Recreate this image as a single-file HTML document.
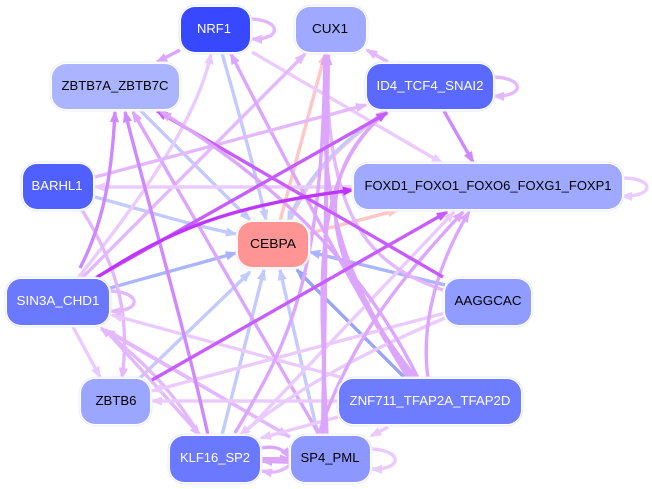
<!DOCTYPE html>
<html><head><meta charset="utf-8"><style>
html,body{margin:0;padding:0;background:#fff;width:652px;height:489px;overflow:hidden}
svg{display:block}
text{font-family:"Liberation Sans",sans-serif;font-size:12.5px;text-anchor:middle;dominant-baseline:central}
svg>path{fill:none}
marker path{stroke:none}
.a{stroke:#ebcbff;stroke-width:3.4}
.b{stroke:#e3b8ff;stroke-width:3.4}
.c{stroke:#dca6ff;stroke-width:3.4}
.d{stroke:#d088ff;stroke-width:3.4}
.e{stroke:#c75cff;stroke-width:3.4}
.f{stroke:#bf35ff;stroke-width:3.4}
.g{stroke:#c2caff;stroke-width:3.4}
.h{stroke:#aab4ff;stroke-width:3.4}
.i{stroke:#98a4f8;stroke-width:3.4}
.p{stroke:#ffc6c6;stroke-width:3.4}
.a{marker-end:url(#ma)}.b{marker-end:url(#mb)}.c{marker-end:url(#mc)}.d{marker-end:url(#md)}.e{marker-end:url(#me)}.f{marker-end:url(#mf)}.g{marker-end:url(#mg)}.h{marker-end:url(#mh)}.i{marker-end:url(#mi)}.p{marker-end:url(#mp)}
.o{fill:#fff;stroke-width:1}
</style></head><body>
<svg width="652" height="489" viewBox="0 0 652 489" xmlns="http://www.w3.org/2000/svg">
<defs>
<marker id="ma" markerUnits="userSpaceOnUse" markerWidth="12" markerHeight="9.4" viewBox="0 0 13 10" refX="11" refY="5" orient="auto"><path d="M0 0L13 5L0 10z" fill="#ebcbff"/></marker>
<marker id="mb" markerUnits="userSpaceOnUse" markerWidth="12" markerHeight="9.4" viewBox="0 0 13 10" refX="11" refY="5" orient="auto"><path d="M0 0L13 5L0 10z" fill="#e3b8ff"/></marker>
<marker id="mc" markerUnits="userSpaceOnUse" markerWidth="12" markerHeight="9.4" viewBox="0 0 13 10" refX="11" refY="5" orient="auto"><path d="M0 0L13 5L0 10z" fill="#dca6ff"/></marker>
<marker id="md" markerUnits="userSpaceOnUse" markerWidth="12" markerHeight="9.4" viewBox="0 0 13 10" refX="11" refY="5" orient="auto"><path d="M0 0L13 5L0 10z" fill="#d088ff"/></marker>
<marker id="me" markerUnits="userSpaceOnUse" markerWidth="12" markerHeight="9.4" viewBox="0 0 13 10" refX="11" refY="5" orient="auto"><path d="M0 0L13 5L0 10z" fill="#c75cff"/></marker>
<marker id="mf" markerUnits="userSpaceOnUse" markerWidth="12" markerHeight="9.4" viewBox="0 0 13 10" refX="11" refY="5" orient="auto"><path d="M0 0L13 5L0 10z" fill="#bf35ff"/></marker>
<marker id="mg" markerUnits="userSpaceOnUse" markerWidth="12" markerHeight="9.4" viewBox="0 0 13 10" refX="11" refY="5" orient="auto"><path d="M0 0L13 5L0 10z" fill="#c2caff"/></marker>
<marker id="mh" markerUnits="userSpaceOnUse" markerWidth="12" markerHeight="9.4" viewBox="0 0 13 10" refX="11" refY="5" orient="auto"><path d="M0 0L13 5L0 10z" fill="#aab4ff"/></marker>
<marker id="mi" markerUnits="userSpaceOnUse" markerWidth="12" markerHeight="9.4" viewBox="0 0 13 10" refX="11" refY="5" orient="auto"><path d="M0 0L13 5L0 10z" fill="#98a4f8"/></marker>
<marker id="mp" markerUnits="userSpaceOnUse" markerWidth="12" markerHeight="9.4" viewBox="0 0 13 10" refX="11" refY="5" orient="auto"><path d="M0 0L13 5L0 10z" fill="#ffc6c6"/></marker>
</defs>

<!-- pink -->
<path class="p" d="M280,221L325,54"/>
<path class="p" d="M290,221C310,175 335,150 386,111"/>
<path class="p" d="M310,233L398,210"/>
<!-- blue -->
<path class="g" d="M222,53C238,110 255,170 266,220"/>
<path class="g" d="M140,110L250,220"/>
<path class="g" d="M386,111C345,140 310,170 288,221"/>
<path class="g" d="M95,197C150,212 190,225 236,234"/>
<path class="h" d="M110,288L236,253"/>
<path class="g" d="M140,378L250,272"/>
<path class="g" d="M222,435L264,270"/>
<path class="g" d="M318,435L280,270"/>
<path class="h" d="M445,285L310,252"/>
<path class="i" d="M405,378L297,270"/>

<!-- light -->
<path class="b" d="M251,19C282,20 282,40 252,39"/>
<path class="c" d="M180,50L157,62"/>
<path class="a" d="M252,52L442,163"/>
<path class="a" d="M78,278C120,225 195,130 211,54"/>
<path class="b" d="M82,278L305,54"/>
<path class="c" d="M408,378C360,300 290,170 231,54"/>
<path class="c" d="M320,436L133,112"/>
<path class="b" d="M95,177L366,105"/>
<path class="a" d="M354,187L95,187"/>
<path class="b" d="M82,210C120,270 130,320 122,378"/>
<path class="a" d="M72,325L100,377"/>
<path class="a" d="M340,377L112,315"/>
<path class="b" d="M200,436C170,385 135,355 101,328"/>
<path class="b" d="M290,437L105,330"/>
<path class="b" d="M110,335L200,435"/>
<path class="b" d="M110,332L288,436"/>
<path class="a" d="M445,313L152,391"/>
<path class="a" d="M338,401L152,401"/>
<path class="a" d="M445,318C370,350 300,385 240,435"/>
<path class="a" d="M338,417L261,438"/>
<path class="a" d="M388,427L371,436"/>
<path class="a" d="M243,435L454,212"/>
<path class="b" d="M443,290C370,265 325,220 327,54"/>
<path class="c" d="M318,436C350,340 400,280 463,212"/>
<path class="c" d="M428,378C420,320 440,260 469,212"/>
<path class="b" d="M388,62L367,50"/>
<path class="d" d="M444,111L473,162"/>
<path class="b" d="M494,77C525,78 525,97 494,96"/>
<path class="a" d="M623,178C655,178 655,197 622,196"/>
<path class="b" d="M110,291C142,292 142,312 111,311"/>
<path class="a" d="M371,449C403,450 403,470 372,469"/>

<!-- to CUX1 / ID4 bundle -->
<path class="c" d="M235,433C290,340 322,280 325,55"/>
<path class="c" style="stroke-width:4.2" d="M323,436L328,55"/>
<path class="c" d="M412,378C345,280 315,200 327,55"/>
<path class="c" d="M327,436C322,300 305,180 386,112"/>
<path class="c" d="M416,378C340,280 295,190 386,112"/>

<!-- KLF <-> SP4 -->
<path class="c" d="M261,448C278,445 285,451 290,458"/>
<path class="c" style="stroke-width:4" d="M262,459L290,459"/>
<path class="c" style="stroke-width:4" d="M290,462L262,461"/>
<path class="b" d="M290,465C280,473 272,473 262,471"/>

<!-- medium / strong -->
<path class="d" d="M80,268C105,220 112,170 115,112"/>
<path class="d" d="M208,435C185,330 150,210 125,112"/>
<path class="e" d="M443,277L157,111"/>
<path class="c" d="M418,378C370,280 290,190 161,112"/>
<path class="e" d="M97,277L387,113"/>
<path class="f" d="M96,278C170,230 230,205 353,190"/>
<path class="e" d="M152,380L447,212"/>

<!-- nodes -->
<g>
<rect class="o" x="179" y="5" width="73" height="49" rx="17" stroke="#e6e9ff"/><rect x="181" y="7" width="69" height="45" rx="14" fill="#3748ff"/><text x="214" y="29" fill="#fff" textLength="34" lengthAdjust="spacingAndGlyphs">NRF1</text>
<rect class="o" x="294" y="5" width="74" height="49" rx="17" stroke="#ebedff"/><rect x="296" y="7" width="70" height="45" rx="14" fill="#9fa9ff"/><text x="330" y="29" fill="#000" textLength="36" lengthAdjust="spacingAndGlyphs">CUX1</text>
<rect class="o" x="50" y="62" width="131" height="49" rx="17" stroke="#eef0ff"/><rect x="52" y="64" width="127" height="45" rx="14" fill="#abb5ff"/><text x="115" y="86" fill="#000" textLength="107" lengthAdjust="spacingAndGlyphs">ZBTB7A_ZBTB7C</text>
<rect class="o" x="365" y="62" width="130" height="49" rx="17" stroke="#e6e9ff"/><rect x="367" y="64" width="126" height="45" rx="14" fill="#5a69ff"/><text x="430" y="86" fill="#fff" textLength="107" lengthAdjust="spacingAndGlyphs">ID4_TCF4_SNAI2</text>
<rect class="o" x="21" y="162" width="74" height="49" rx="17" stroke="#e6e9ff"/><rect x="23" y="164" width="70" height="45" rx="14" fill="#4f60ff"/><text x="57" y="186" fill="#fff" textLength="51" lengthAdjust="spacingAndGlyphs">BARHL1</text>
<rect class="o" x="352" y="162" width="272" height="49" rx="17" stroke="#ebedff"/><rect x="354" y="164" width="268" height="45" rx="14" fill="#9fa9ff"/><text x="488" y="186" fill="#000" textLength="247" lengthAdjust="spacingAndGlyphs">FOXD1_FOXO1_FOXO6_FOXG1_FOXP1</text>
<rect class="o" x="236" y="220" width="74" height="49" rx="17" stroke="#ffeaea"/><rect x="238" y="222" width="70" height="45" rx="14" fill="#ff9494"/><text x="273" y="244" fill="#000" textLength="46" lengthAdjust="spacingAndGlyphs">CEBPA</text>
<rect class="o" x="5" y="277" width="106" height="50" rx="17" stroke="#e6e9ff"/><rect x="7" y="279" width="102" height="46" rx="14" fill="#6a79ff"/><text x="58" y="301" fill="#fff" textLength="83" lengthAdjust="spacingAndGlyphs">SIN3A_CHD1</text>
<rect class="o" x="443" y="277" width="90" height="50" rx="17" stroke="#ebedff"/><rect x="445" y="279" width="86" height="46" rx="14" fill="#909cff"/><text x="488" y="301" fill="#000" textLength="67" lengthAdjust="spacingAndGlyphs">AAGGCAC</text>
<rect class="o" x="79" y="377" width="73" height="49" rx="17" stroke="#ebedff"/><rect x="81" y="379" width="69" height="45" rx="14" fill="#9aa6ff"/><text x="116" y="401" fill="#000" textLength="41" lengthAdjust="spacingAndGlyphs">ZBTB6</text>
<rect class="o" x="337" y="377" width="186" height="49" rx="17" stroke="#e6e9ff"/><rect x="339" y="379" width="182" height="45" rx="14" fill="#6e7cff"/><text x="430" y="401" fill="#fff" textLength="161" lengthAdjust="spacingAndGlyphs">ZNF711_TFAP2A_TFAP2D</text>
<rect class="o" x="168" y="434" width="94" height="50" rx="17" stroke="#e6e9ff"/><rect x="170" y="436" width="90" height="46" rx="14" fill="#6a79ff"/><text x="215" y="458" fill="#fff" textLength="70" lengthAdjust="spacingAndGlyphs">KLF16_SP2</text>
<rect class="o" x="289" y="434" width="83" height="50" rx="17" stroke="#ebedff"/><rect x="291" y="436" width="79" height="46" rx="14" fill="#8c98ff"/><text x="330" y="458" fill="#000" textLength="59" lengthAdjust="spacingAndGlyphs">SP4_PML</text>
</g>
</svg>
</body></html>
